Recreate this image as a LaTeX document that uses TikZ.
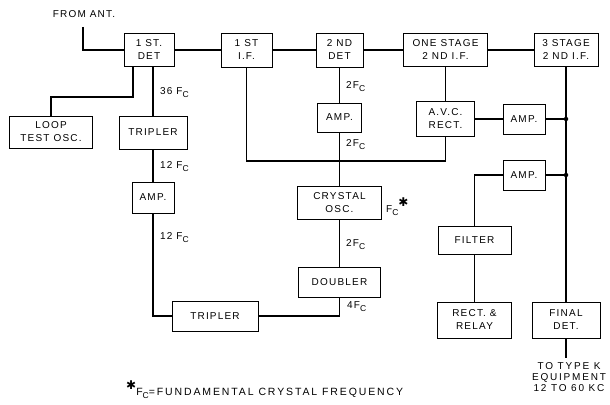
\documentclass[tikz,border=0pt]{standalone}
\usepackage{fontspec}
\setmainfont{Liberation Sans}
\newfontfamily\lettering[LetterSpace=12]{Liberation Sans}
\newfontfamily\widelettering[LetterSpace=18]{Liberation Sans}
\newfontfamily\symbolfont{DejaVu Sans}
\newcommand{\Fc}{F\raisebox{-0.55ex}{\fontsize{8.5}{8.5}\selectfont C}}
\newcommand{\starmark}{\raisebox{1.1ex}{\symbolfont\bfseries\fontsize{12}{12}\selectfont ✱}}
\tikzset{
  box/.style={draw,line width=0.9pt,align=center,inner sep=1pt,
    font=\lettering\fontsize{10}{13}\selectfont},
  wire/.style={line width=1.1pt},
  tag/.style={font=\lettering\fontsize{10}{10.7}\selectfont,inner sep=0pt,align=center},
  junction/.style={circle,fill,inner sep=0pt,minimum size=4.5pt},
}
\begin{document}
\begin{tikzpicture}[x=1pt,y=-1pt]
  \useasboundingbox (0,0) rectangle (610,404);
  % main receiving chain
  \node[tag] (ant) at (84,14) {FROM ANT.};
  \coordinate (antin) at (83,27);
  \node[box,minimum width=50pt,minimum height=33pt] (det1) at (149,50) {1 ST.\\DET};
  \node[box,minimum width=51pt,minimum height=34pt] (if1) at (246.5,50) {1 ST\\I.F.};
  \node[box,minimum width=47pt,minimum height=34pt] (det2) at (339.5,50) {2 ND\\DET};
  \node[box,minimum width=84pt,minimum height=33pt] (onestage) at (445.5,50) {ONE STAGE\\2 ND I.F.};
  \node[box,minimum width=64pt,minimum height=33pt] (threestage) at (566,50) {3 STAGE\\2 ND I.F.};
  % oscillator chain
  \node[box,minimum width=83pt,minimum height=32pt] (loop) at (51,132) {LOOP\\TEST OSC.};
  \node[box,minimum width=68pt,minimum height=33pt] (trip1) at (153,132.5) {TRIPLER};
  \node[box,minimum width=42pt,minimum height=31pt] (amp1) at (153,197.5) {AMP.};
  \node[box,minimum width=86pt,minimum height=30pt] (trip2) at (215,316) {TRIPLER};
  \node[box,minimum width=44pt,minimum height=29pt] (amp2) at (339.5,117.5) {AMP.};
  \node[box,minimum width=84pt,minimum height=33pt] (crystal) at (339.5,202.5) {CRYSTAL\\OSC.};
  \node[box,minimum width=82pt,minimum height=30pt] (doubler) at (339.5,282) {DOUBLER};
  % control side
  \node[box,minimum width=58pt,minimum height=35pt] (avc) at (445.5,119) {A.V.C.\\RECT.};
  \node[box,minimum width=42pt,minimum height=30pt] (amp3) at (524,119) {AMP.};
  \node[box,minimum width=42pt,minimum height=30pt] (amp4) at (524,175) {AMP.};
  \node[box,minimum width=73pt,minimum height=28pt] (filter) at (474.5,240) {FILTER};
  \node[box,minimum width=74pt,minimum height=36pt] (rect) at (474.5,320) {RECT. \&\\RELAY};
  \node[box,minimum width=68pt,minimum height=36pt] (final) at (566,320) {FINAL\\DET.};
  \node[tag,font=\widelettering\fontsize{10}{10.7}\selectfont] (totype) at (569,377) {TO TYPE K\\EQUIPMENT\\12 TO 60 KC};
  % frequency marks
  \node[tag,anchor=west] (f36) at (160,93) {36 \Fc};
  \node[tag,anchor=west] (f12a) at (160,167) {12 \Fc};
  \node[tag,anchor=west] (f12b) at (160,238) {12 \Fc};
  \node[tag,anchor=west] (f2a) at (346,87) {2\Fc};
  \node[tag,anchor=west] (f2b) at (346,145) {2\Fc};
  \node[tag,anchor=west] (f2c) at (346,245) {2\Fc};
  \node[tag,anchor=west] (f4) at (347,307) {4\Fc};
  \node[tag,anchor=west] (fstar) at (386,207) {\Fc\starmark};
  \node[tag,anchor=west,font=\widelettering\fontsize{10.5}{11}\selectfont] (note) at (126,390) {\starmark\Fc=FUNDAMENTAL CRYSTAL FREQUENCY};
  % connections
  \coordinate (loopbend) at (51,97);
  \coordinate (osbus) at (339.5,161);
  \draw[wire] (antin) |- (det1);
  \draw[wire] (det1) -- (if1) -- (det2) -- (onestage) -- (threestage);
  \draw[wire] ([xshift=-16pt]det1.south) |- (loopbend) -- (loop);
  \draw[wire] (trip1.north |- det1.south) -- (trip1) -- (amp1);
  \draw[wire] (amp1) |- (trip2);
  \draw[wire] (trip2) -| (doubler);
  \draw[wire] (det2) -- (amp2) -- (crystal) -- (doubler);
  \draw[wire] (if1) |- (osbus) -| (avc);
  \draw[wire] (onestage) -- (avc) -- (amp3);
  \draw[wire] (threestage) -- (final);
  \draw[wire] (amp3) -- (amp3 -| threestage) node[junction] (dot1) {};
  \draw[wire] (amp4) -- (amp4 -| threestage) node[junction] (dot2) {};
  \draw[wire] (amp4) -| (filter);
  \draw[wire] (filter) -- (rect);
  \draw[wire,shorten >=5pt] (final) -- (final |- totype.north);
\end{tikzpicture}
\end{document}
